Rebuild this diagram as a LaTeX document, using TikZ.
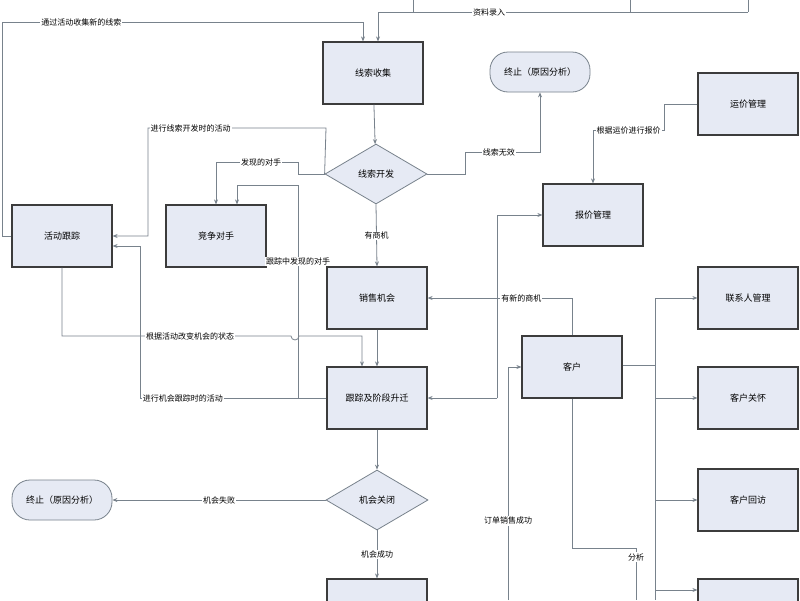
\documentclass[tikz,border=0pt]{standalone}
\usepackage{fontspec}
\setmainfont{Noto Sans CJK SC}
\usetikzlibrary{arrows.meta, positioning, calc, shapes.geometric}
\definecolor{boxfill}{RGB}{230,234,244}
\definecolor{boxline}{RGB}{60,60,60}
\definecolor{wire}{RGB}{120,130,140}
\begin{document}
\begin{tikzpicture}[x=1pt, y=-1pt, >={Stealth[length=5pt,width=4pt]},
  box/.style={draw=boxline, line width=1.2pt, fill=boxfill, minimum width=100pt, minimum height=62pt, font=\fontsize{9}{10}\selectfont},
  decide/.style={draw=wire, line width=0.8pt, fill=boxfill, diamond, aspect=1.7, minimum width=102pt, minimum height=60pt, inner sep=0pt, font=\fontsize{9}{10}\selectfont},
  stop/.style={draw=wire, line width=0.8pt, fill=boxfill, rounded corners=18pt, minimum width=100pt, minimum height=40pt, font=\fontsize{9}{10}\selectfont},
  wire/.style={draw=wire, line width=0.8pt},
  tag/.style={fill=white, inner sep=1pt, font=\fontsize{8}{9}\selectfont}]
  \fill[white] (0,0) rectangle (800,600);
  \useasboundingbox (0,0) rectangle (800,600);

  % main column
  \node[box] (collect) at (373,73) {线索收集};
  \node[decide] (develop) at (376,174) {线索开发};
  \node[box] (chance) at (377,298) {销售机会};
  \node[box] (track) at (377,398) {跟踪及阶段升迁};
  \node[decide] (close) at (377,500) {机会关闭};
  \node[box] (order) at (377,610) {};

  % left side
  \node[box] (activity) at (62,236) {活动跟踪};
  \node[box] (rival) at (216,236) {竞争对手};
  \node[stop] (stopB) at (62,500) {终止（原因分析）};
  \node[stop] (stopA) at (540,72) {终止（原因分析）};

  % right side
  \node[box] (freight) at (748,104) {运价管理};
  \node[box] (quote) at (593,215) {报价管理};
  \node[box] (client) at (572,367) {客户};
  \node[box] (contact) at (748,298) {联系人管理};
  \node[box] (care) at (748,398) {客户关怀};
  \node[box] (visit) at (748,500) {客户回访};
  \node[box] (more) at (748,610) {};
  \node[box] (top) at (560,-40) {};

  % data entry at the top
  \draw[wire] (413,0) -- (413,12) (630,0) -- (630,12) (748,0) -- (748,12);
  \draw[wire, ->] (748,12) -- (378,12) node[tag, pos=0.7] {资料录入} -- (collect.north -| 378,0);
  \draw[wire, ->] (activity.west) -- (2,236) -- (2,22) -- (363,22) node[tag, pos=0.22] {通过活动收集新的线索} -- (collect.north -| 363,0);

  \draw[wire, ->] (collect) -- (develop);
  \draw[wire, ->] (develop.east) -- (465,174) -- (465,152) -- (540,152) node[tag, pos=0.45] {线索无效} -- (stopA.south);
  \draw[wire, ->] (develop.south) -- (chance.north) node[tag, midway] {有商机};
  \draw[wire, ->] (develop.west) -- (298,174) -- (298,162) -- (216,162) node[tag, pos=0.45] {发现的对手} -- (rival.north);
  \draw[wire, ->] (develop.west) -- (326,128) -- (148,128) node[tag, pos=0.76] {进行线索开发时的活动} -- (148,236) -- (activity.east);

  \draw[wire, ->] (track.west) -- (298,398) -- (298,185) node[tag, pos=0.64] {跟踪中发现的对手} -- (237,185) -- (rival.north -| 237,0);
  \draw[wire, ->] (track.west) -- (140,398) node[tag, pos=0.77] {进行机会跟踪时的活动} -- (140,246) -- (activity.east |- 0,246);
  \draw[wire, ->] (activity.south) -- (62,336) -- (291,336) arc(180:0:4) -- (362,336) -- (track.north -| 362,0);
  \node[tag] (statelbl) at (190,336) {根据活动改变机会的状态};

  \draw[wire, ->] (chance) -- (track);
  \draw[wire, ->] (track) -- (close);
  \draw[wire, ->] (close.west) -- (stopB.east) node[tag, midway] {机会失败};
  \draw[wire, ->] (close.south) -- (order.north) node[tag, midway] {机会成功};

  % customer links
  \draw[wire, ->] (client.north) -- (572,298) -- (chance.east) node[tag, pos=0.35] {有新的商机};
  \draw[wire, ->] (497,398) -- (497,215) -- (quote.west);
  \draw[wire, ->] (497,398) -- (track.east);
  \draw[wire, ->] (508,600) -- (508,367) node[tag, pos=0.34] {订单销售成功} -- (client.west);
  \draw[wire] (client.south) -- (572,548) -- (636,548) -- (636,600);
  \node[tag] (analyse) at (636,557) {分析};
  \draw[wire] (client.east |- 0,365) -- (655,365);
  \draw[wire] (655,298) -- (655,600);
  \draw[wire, ->] (655,298) -- (contact.west);
  \draw[wire, ->] (655,398) -- (care.west);
  \draw[wire, ->] (655,500) -- (visit.west);
  \draw[wire, ->] (655,590) -- (more.west |- 0,590);
  \draw[wire, ->] (freight.west) -- (664,104) -- (664,130) -- (593,130) node[tag, pos=0.5] {根据运价进行报价} -- (quote.north);
\end{tikzpicture}
\end{document}
